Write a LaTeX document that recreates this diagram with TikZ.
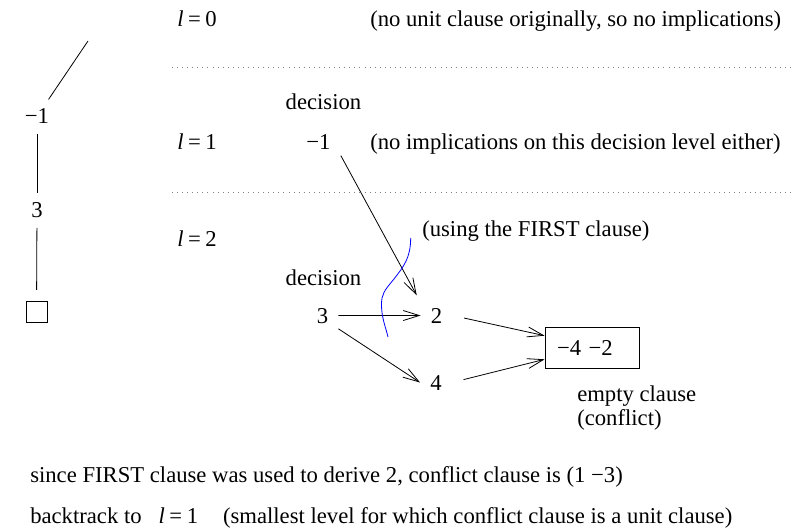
\documentclass[tikz,border=0pt]{standalone}
\usepackage{fontspec}
\setmainfont{Liberation Serif}
\usepackage{xcolor}
\usepackage{tikz}
\usetikzlibrary{arrows.meta, positioning}

\begin{document}
\begin{tikzpicture}[x=0.75pt, y=-0.75pt, font=\fontsize{17}{20}\selectfont,
    txt/.style={anchor=base west, inner sep=0pt},
    lit/.style={anchor=base, inner xsep=7.5pt, inner ysep=4pt},
    tree/.style={anchor=base, inner xsep=3pt, inner ysep=7pt},
    edge/.style={line width=0.6pt},
    imp/.style={edge, -{Straight Barb[length=12pt, width=7.5pt]}},
    level/.style={gray, line width=0.6pt, dash pattern=on 0.6pt off 3.2pt}
]
    \useasboundingbox (0,0) rectangle (808,528);

    % Search tree
    \coordinate (troot) at (88,41);
    \node[tree] (t1) at (37,124) {−1};
    \node[tree] (t3) at (37,218) {3};
    \node[draw, edge, minimum size=15.75pt, inner sep=0pt] (tbox) at (36.5,311.5) {};
    \draw[edge] (troot) -- (t1);
    \draw[edge] (t1) -- (t3);
    \draw[edge, shorten >=8pt] (t3) -- (tbox);

    % Decision levels
    \node[txt] (l0) at (177,27) {\textit{l}\hspace{0.2em}=\hspace{0.2em}0};
    \node[txt] (note0) at (370,27) {(no unit clause originally, so no implications)};
    \draw[level] (172,67) -- (795,67);

    \node[txt] (l1) at (177,150) {\textit{l}\hspace{0.2em}=\hspace{0.2em}1};
    \node[anchor=base, inner sep=0pt] (dec1) at (323.5,110) {decision};
    \node[lit] (dm1) at (318.5,150) {−1};
    \node[txt] (note1) at (370,150) {(no implications on this decision level either)};
    \draw[level] (172,192) -- (795,192);

    \node[txt] (l2) at (177,247) {\textit{l}\hspace{0.2em}=\hspace{0.2em}2};
    \node[txt] (note2) at (422,237) {(using the FIRST clause)};
    \node[anchor=base, inner sep=0pt] (dec2) at (323.5,286) {decision};
    \node[lit] (d3) at (322.5,323) {3};
    \node[lit] (n2) at (436.5,323) {2};
    \node[lit] (n4) at (436,390) {4};
    \node[draw, edge, text width=52.5pt, inner xsep=9pt, minimum height=30.75pt, align=left] (confl) at (592,347.5) {−4 −2};
    \node[txt] (empty) at (577,401) {empty clause};
    \node[txt] (conflnote) at (577,425) {(conflict)};

    % Implications
    \draw[imp, shorten >=6pt] (dm1.south east) -- (n2.north west);
    \draw[imp] (d3) -- (n2);
    \draw[imp] (d3.south east) -- (n4.west);
    \draw[imp, shorten <=9pt] (n2.east) -- (confl.166);
    \draw[imp, shorten <=9pt] (n4.east) -- (confl.194);

    % Cut for the first clause
    \draw[blue, edge] (410.7,238) .. controls (410.5,258) and (404,266) .. (394,279)
        .. controls (384,291) and (381.5,294) .. (381.5,305)
        .. controls (381.5,318) and (386,328) .. (388,337);

    % Learning
    \node[txt] (why) at (30,482) {since FIRST clause was used to derive 2, conflict clause is (1 −3)};
    \node[txt] (back) at (30,523) {backtrack to\hspace{0.75em}\textit{l}\hspace{0.2em}=\hspace{0.2em}1\hspace{1.1em}(smallest level for which conflict clause is a unit clause)};
\end{tikzpicture}
\end{document}
